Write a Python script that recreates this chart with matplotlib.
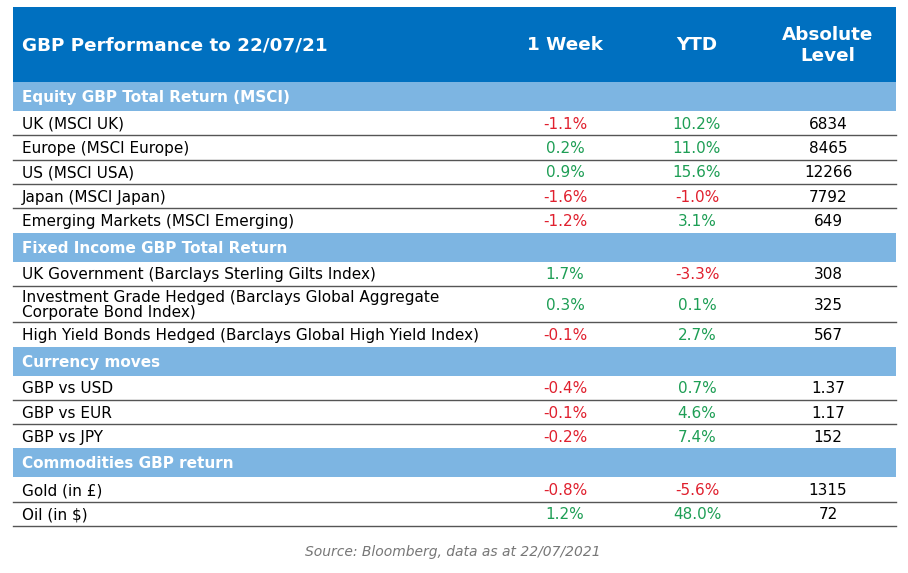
import matplotlib
matplotlib.use("Agg")
import matplotlib.pyplot as plt
from matplotlib.patches import Rectangle

title = "GBP Performance to 22/07/21"
col_headers = ["1 Week", "YTD", "Absolute\nLevel"]

sections = [
    "Equity GBP Total Return (MSCI)",
    "Fixed Income GBP Total Return",
    "Currency moves",
    "Commodities GBP return",
]
labels = [
    ["UK (MSCI UK)", "Europe (MSCI Europe)", "US (MSCI USA)", "Japan (MSCI Japan)",
     "Emerging Markets (MSCI Emerging)"],
    ["UK Government (Barclays Sterling Gilts Index)",
     "Investment Grade Hedged (Barclays Global Aggregate\nCorporate Bond Index)",
     "High Yield Bonds Hedged (Barclays Global High Yield Index)"],
    ["GBP vs USD", "GBP vs EUR", "GBP vs JPY"],
    ["Gold (in £)", "Oil (in $)"],
]
week = [
    [-1.1, 0.2, 0.9, -1.6, -1.2],
    [1.7, 0.3, -0.1],
    [-0.4, -0.1, -0.2],
    [-0.8, 1.2],
]
ytd = [
    [10.2, 11.0, 15.6, -1.0, 3.1],
    [-3.3, 0.1, 2.7],
    [0.7, 4.6, 7.4],
    [-5.6, 48.0],
]
level = [
    ["6834", "8465", "12266", "7792", "649"],
    ["308", "325", "567"],
    ["1.37", "1.17", "152"],
    ["1315", "72"],
]
source = "Source: Bloomberg, data as at 22/07/2021"

HEADER_BLUE = "#0070C0"
SECTION_BLUE = "#7DB5E2"
RED = "#E0202E"
GREEN = "#1E9E55"
LINE = "#555555"

fig = plt.figure(figsize=(9.08, 5.73), dpi=100)
ax = fig.add_axes([0, 0, 1, 1])
ax.set_xlim(0, 908)
ax.set_ylim(573, 0)
ax.axis("off")

x0, x1 = 13, 896
lab_x = 22
col_x = [565, 697, 828]
body_fs = 11.0
head_fs = 13.2

# header
ax.add_patch(Rectangle((x0, 7), x1 - x0, 75, color=HEADER_BLUE, lw=0))
ax.text(lab_x, 45.5, title, color="white", fontsize=head_fs, fontweight="bold", va="center", ha="left")
for cx, h in zip(col_x, col_headers):
    ax.text(cx, 45.5, h, color="white", fontsize=head_fs, fontweight="bold", va="center",
            ha="center", linespacing=1.2)

y = 82
sec_h = 29
row_h = 24.3
for s, sec in enumerate(sections):
    ax.add_patch(Rectangle((x0, y), x1 - x0, sec_h, color=SECTION_BLUE, lw=0))
    ax.text(lab_x, y + sec_h / 2 + 1, sec, color="white", fontsize=body_fs,
            fontweight="bold", va="center", ha="left")
    y += sec_h
    for i, lab in enumerate(labels[s]):
        h = row_h * (1.5 if "\n" in lab else 1.0)
        cy = y + h / 2 + 1
        ax.text(lab_x, cy, lab, color="black", fontsize=body_fs, va="center", ha="left",
                linespacing=1.05)
        w = week[s][i]
        t = ytd[s][i]
        ax.text(col_x[0], cy, f"{w:.1f}%", color=RED if w < 0 else GREEN,
                fontsize=body_fs, va="center", ha="center")
        ax.text(col_x[1], cy, f"{t:.1f}%", color=RED if t < 0 else GREEN,
                fontsize=body_fs, va="center", ha="center")
        ax.text(col_x[2], cy, level[s][i], color="black", fontsize=body_fs,
                va="center", ha="center")
        y += h
        if i < len(labels[s]) - 1 or s == len(sections) - 1:
            ax.plot([x0, x1], [y, y], color=LINE, lw=1.0)

ax.text(453, 552, source, color="#777777", fontsize=10, style="italic",
        va="center", ha="center")

fig.savefig("out.png", dpi=100)
